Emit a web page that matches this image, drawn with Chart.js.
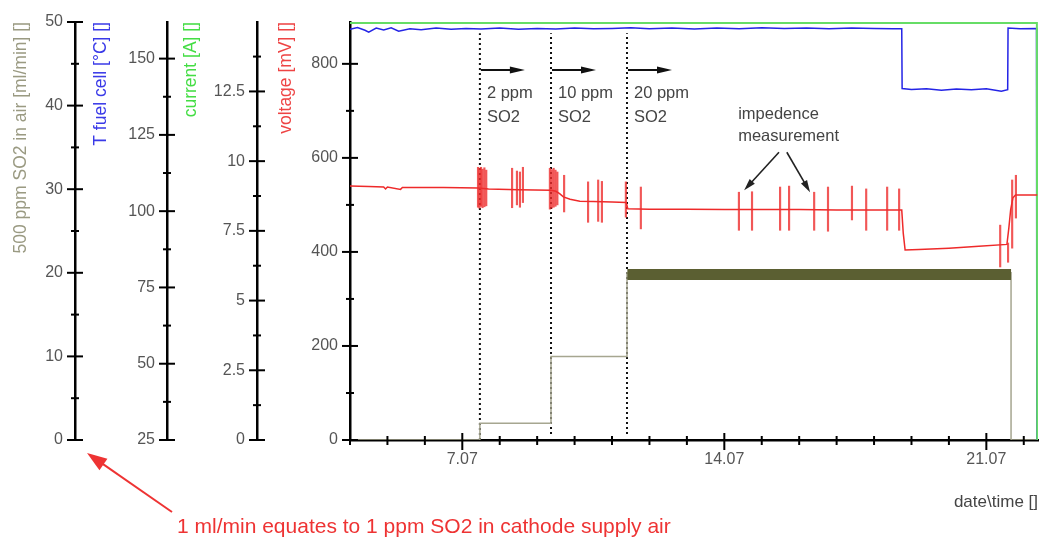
<!DOCTYPE html>
<html>
<head>
<meta charset="utf-8">
<script src="https://cdn.jsdelivr.net/npm/chart.js@4.4.1/dist/chart.umd.min.js"></script>
<style>
  html, body { margin: 0; padding: 0; background: #fff; }
</style>
</head>
<body>
<canvas id="chart" width="1040" height="537"></canvas>
<script>
// x values are days of July (7 -> "7.07")
const dateLabelDays = [7, 14, 21];

// left axes: labelled tick values
const so2TickLabels = [0, 10, 20, 30, 40, 50];
const tempTickLabels = [25, 50, 75, 100, 125, 150];
const currTickLabels = [0, 2.5, 5, 7.5, 10, 12.5];
const voltTickLabels = [0, 200, 400, 600, 800];

// SO2 flow (500 ppm SO2 in air) [ml/min]
const so2Days = [4.0, 7.47, 7.47, 9.37, 9.37, 11.40, 11.40, 21.66, 21.66, 22.38];
const so2Flow = [0, 0, 2, 2, 10, 10, 20, 20, 0, 0];
// noisy 20 ml/min period (drawn as a thick band)
const so2BandDays = [11.41, 21.66];
const so2BandFlow = [19.8, 19.8];

// fuel cell temperature [°C]
const tempDays = [4.0, 4.2, 4.4, 4.5, 4.7, 4.9, 5.1, 5.3, 5.6, 5.9, 6.3, 6.7, 7.1, 7.5, 8.0, 8.5, 9.0, 9.5,
  10.0, 10.5, 11.0, 11.5, 12.0, 12.6, 13.2, 13.8, 14.4, 15.0, 15.6, 16.2, 16.8, 17.4, 18.0, 18.5, 18.74,
  18.75, 19.0, 19.4, 19.8, 20.2, 20.6, 21.0, 21.4, 21.57, 21.58, 21.9, 22.34, 22.35];
const tempC = [159.6, 160.2, 159.3, 158.7, 160.0, 159.4, 160.1, 159.0, 159.8, 159.5, 160.0, 159.6, 159.9, 159.7,
  160.0, 159.6, 159.9, 159.7, 160.0, 159.8, 159.9, 160.1, 159.8, 160.0, 159.7, 160.0, 159.8, 160.1, 159.9,
  160.0, 159.8, 160.0, 159.9, 159.8, 159.8, 140.2, 139.9, 140.1, 139.6, 140.0, 139.8, 140.1, 139.3, 139.8,
  160.0, 159.8, 159.9, 25];

// current [A]
const currDays = [4.0, 22.35, 22.36];
const currAmp = [14.95, 14.95, 0];

// cell voltage [mV]
const voltDays = [4.0, 4.5, 4.9, 4.95, 5.0, 5.35, 5.4, 5.8, 6.5, 7.42, 7.7, 8.5, 9.37, 9.5, 9.6, 9.7,
  9.88, 10.14, 10.5, 11.0, 11.38, 11.42, 12.0, 13.0, 14.0, 15.0, 16.0, 17.0, 18.0, 18.74, 18.78, 18.83,
  19.2, 20.0, 20.8, 21.55, 21.6, 21.65, 21.71, 21.78, 22.36];
const voltMv = [540, 539, 538, 534, 538, 533, 537, 537, 537, 536, 534, 532, 531, 529, 524, 517,
  512, 508, 507, 506, 505, 492, 491, 491, 490, 490, 490, 489, 489, 489, 440, 404,
  405, 408, 412, 416, 450, 490, 515, 521, 521];

// impedance measurement spikes on the voltage signal [mV]
const spikeDays = [7.42, 7.46, 7.50, 7.54, 7.59, 7.64, 8.33, 8.46, 8.54, 8.62, 9.34, 9.39, 9.44, 9.49, 9.54,
  9.72, 10.36, 10.63, 10.73, 11.37, 11.77, 14.39, 14.74, 15.49, 15.73, 16.40, 16.77, 17.41, 17.79, 18.35, 18.67,
  21.37, 21.58, 21.69, 21.79];
const spikeLow = [495, 493, 497, 494, 496, 498, 494, 500, 495, 505, 491, 493, 495, 497, 500,
  485, 463, 465, 463, 474, 449, 446, 446, 446, 446, 446, 444, 468, 446, 446, 446,
  368, 378, 408, 472];
const spikeHigh = [580, 578, 580, 576, 579, 574, 578, 572, 570, 580, 578, 575, 578, 574, 570,
  563, 549, 553, 550, 549, 538, 527, 528, 538, 540, 527, 538, 540, 534, 538, 534,
  457, 419, 553, 563];

// start of each SO2 step (dotted markers)
const eventDays = [7.47, 9.37, 11.40];
const eventBottomMv = [0, 13, 13];
const eventTopMv = [865, 865, 865];

const FONT = '"Liberation Sans", Arial, sans-serif';
Chart.defaults.font.family = FONT;

function pts(xs, ys) {
  return xs.map((d, i) => ({ x: d, y: ys[i] }));
}

function drawArrow(ctx, x1, y1, x2, y2, head, halfW, color, lw) {
  const a = Math.atan2(y2 - y1, x2 - x1);
  const c = Math.cos(a), s = Math.sin(a);
  ctx.strokeStyle = color;
  ctx.fillStyle = color;
  ctx.lineWidth = lw;
  ctx.beginPath();
  ctx.moveTo(x1, y1);
  ctx.lineTo(x2 - c * head * 0.8, y2 - s * head * 0.8);
  ctx.stroke();
  ctx.beginPath();
  ctx.moveTo(x2, y2);
  ctx.lineTo(x2 - c * head - s * halfW, y2 - s * head + c * halfW);
  ctx.lineTo(x2 - c * head + s * halfW, y2 - s * head - c * halfW);
  ctx.closePath();
  ctx.fill();
}

// crossing tick marks, arrows and notes
const decorations = {
  id: 'decorations',
  afterDraw(chart) {
    const ctx = chart.ctx;
    const xs = chart.scales.x;
    const vs = chart.scales.volt;
    ctx.save();
    ctx.strokeStyle = '#000';
    ctx.lineWidth = 2;
    ['so2', 'temp', 'curr', 'volt'].forEach(id => {
      const s = chart.scales[id];
      s.ticks.forEach(t => {
        const y = s.getPixelForValue(t.value);
        const len = t.label !== '' ? 8 : 4;
        ctx.beginPath();
        ctx.moveTo(s.right - len, y);
        ctx.lineTo(s.right + len, y);
        ctx.stroke();
      });
    });
    xs.ticks.forEach(t => {
      const x = xs.getPixelForValue(t.value);
      const major = t.label !== '';
      ctx.beginPath();
      ctx.moveTo(x, xs.top - (major ? 7 : 4));
      ctx.lineTo(x, xs.top + (major ? 10 : 5));
      ctx.stroke();
    });

    const px = d => xs.getPixelForValue(d);
    const py = mv => vs.getPixelForValue(mv);

    // step arrows and labels
    const steps = [['2 ppm', 0], ['10 ppm', 1], ['20 ppm', 2]];
    ctx.font = '16.5px ' + FONT;
    ctx.textAlign = 'left';
    ctx.textBaseline = 'alphabetic';
    steps.forEach(([txt, i]) => {
      const d = eventDays[i];
      drawArrow(ctx, px(d) + 1, py(787), px(d) + 45, py(787), 15, 3.5, '#111', 2);
      ctx.fillStyle = '#444';
      ctx.fillText(txt, px(d) + 7, py(727));
      ctx.fillText('SO2', px(d) + 7, py(676));
    });

    // impedance note
    ctx.fillStyle = '#444';
    ctx.fillText('impedence', px(14.37), py(682));
    ctx.fillText('measurement', px(14.37), py(636));
    drawArrow(ctx, px(15.46), py(612), px(14.53), py(531), 12, 3.5, '#222', 1.6);
    drawArrow(ctx, px(15.67), py(612), px(16.29), py(527), 12, 3.5, '#222', 1.6);

    // red note under the SO2 axis
    const so2 = chart.scales.so2;
    const ax = so2.right, ay = so2.bottom;
    drawArrow(ctx, ax + 97, ay + 72, ax + 12, ay + 13, 20, 7, '#ee3333', 2);
    ctx.fillStyle = '#ee3333';
    ctx.font = '21px ' + FONT;
    ctx.fillText('1 ml/min equates to 1 ppm SO2 in cathode supply air', ax + 102, ay + 93);
    ctx.restore();
  }
};

function leftAxis(weight, min, max, step, labels, width, title, color, pad) {
  return {
    type: 'linear', position: 'left', weight, min, max,
    ticks: {
      stepSize: step, includeBounds: false, autoSkip: false, padding: 12,
      color: '#555', font: { size: 16 },
      callback: v => labels.includes(v) ? String(v) : ''
    },
    grid: { display: false, drawTicks: false },
    border: { color: '#000', width: 2.5 },
    title: { display: true, text: title, align: 'end', color, font: { size: 17.5 }, padding: { top: pad, bottom: 0 } },
    afterFit: s => { s.width = width; }
  };
}

const datasets = [
  { type: 'bar', label: 'spikes', yAxisID: 'volt', order: 1, grouped: false, barThickness: 1.5,
    data: spikeDays.map((d, i) => ({ x: d, y: [spikeLow[i], spikeHigh[i]] })),
    backgroundColor: 'rgba(238,45,45,0.8)', borderWidth: 0 },
  { label: 'voltage', yAxisID: 'volt', order: 2, data: pts(voltDays, voltMv),
    borderColor: '#ee2a2a', borderWidth: 1.5 },
  { label: 'current', yAxisID: 'curr', order: 3, data: pts(currDays, currAmp),
    borderColor: '#66dd66', borderWidth: 2 },
  { label: 'temperature', yAxisID: 'temp', order: 4, data: pts(tempDays, tempC),
    borderColor: '#2424e6', borderWidth: 1.5 },
  { label: 'so2 band', yAxisID: 'so2', order: 5, data: pts(so2BandDays, so2BandFlow),
    borderColor: '#5b5f32', borderWidth: 11 },
  { label: 'so2', yAxisID: 'so2', order: 6, data: pts(so2Days, so2Flow),
    borderColor: '#a6a690', borderWidth: 1.5 }
];
eventDays.forEach((d, i) => {
  datasets.push({
    label: 'event' + i, yAxisID: 'volt', order: 7,
    data: [{ x: d, y: eventBottomMv[i] }, { x: d, y: eventTopMv[i] }],
    borderColor: '#111', borderWidth: 2, borderDash: [2, 3]
  });
});
datasets.forEach(ds => {
  if (ds.type !== 'bar') Object.assign(ds, { pointRadius: 0, fill: false, tension: 0 });
});

new Chart(document.getElementById('chart'), {
  type: 'line',
  data: { datasets },
  options: {
    responsive: false,
    animation: false,
    events: [],
    layout: { padding: { left: 0, right: 2, top: 22, bottom: 0 } },
    plugins: { legend: { display: false }, tooltip: { enabled: false } },
    scales: {
      x: {
        type: 'linear', position: 'bottom', min: 4, max: 22.38, offset: false,
        ticks: {
          stepSize: 1, includeBounds: false, autoSkip: false, maxRotation: 0, padding: 10,
          color: '#555', font: { size: 16 },
          callback: v => dateLabelDays.includes(v) ? v + '.07' : ''
        },
        grid: { display: false, drawTicks: false },
        border: { color: '#000', width: 2.5 },
        title: { display: true, text: 'date\\time []', align: 'end', color: '#444', font: { size: 17 }, padding: { top: 0, bottom: 24 } },
        afterFit: s => { s.height = 97; }
      },
      so2: leftAxis(4, 0, 50, 5, so2TickLabels, 75, '500 ppm SO2 in air [ml/min] []', '#9a9a82', 10.5),
      temp: leftAxis(3, 25, 162, 12.5, tempTickLabels, 92, 'T fuel cell [°C] []', '#3a3ae8', 15.5),
      curr: leftAxis(2, 0, 14.99, 1.25, currTickLabels, 90, 'current [A] []', '#44dd44', 13.5),
      volt: leftAxis(1, 0, 889, 100, voltTickLabels, 93, 'voltage [mV] []', '#ee4444', 18.5)
    }
  },
  plugins: [decorations]
});
</script>
</body>
</html>
